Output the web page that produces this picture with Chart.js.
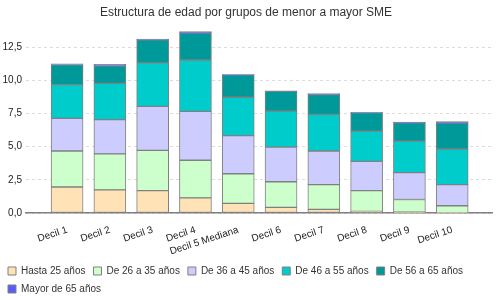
<!DOCTYPE html>
<html>
<head>
<meta charset="utf-8">
<script src="https://cdn.jsdelivr.net/npm/chart.js@4/dist/chart.umd.min.js"></script>
<style>
  body { margin: 0; background: #fff; }
  #wrap { width: 500px; height: 300px; }
</style>
</head>
<body>
<div id="wrap"><canvas id="edadChart"></canvas></div>
<script>
// Categorias (deciles) y series
var deciles = ["Decil 1", "Decil 2", "Decil 3", "Decil 4", "Decil 5 Mediana", "Decil 6", "Decil 7", "Decil 8", "Decil 9", "Decil 10"];
var hasta25 = [1.96, 1.74, 1.69, 1.14, 0.72, 0.42, 0.27, 0.12, 0.06, 0.02];
var de26a35 = [2.72, 2.72, 3.03, 2.84, 2.24, 1.94, 1.87, 1.57, 0.96, 0.53];
var de36a45 = [2.46, 2.58, 3.32, 3.68, 2.88, 2.61, 2.54, 2.21, 2.02, 1.59];
var de46a55 = [2.54, 2.74, 3.28, 3.88, 2.89, 2.72, 2.76, 2.27, 2.38, 2.69];
var de56a65 = [1.52, 1.32, 1.74, 2.04, 1.69, 1.49, 1.49, 1.41, 1.39, 1.96];
var mayor65 = [0.05, 0.12, 0.06, 0.10, 0.03, 0.04, 0.08, 0.02, 0.05, 0.10];
var yTicks = [0, 2.5, 5, 7.5, 10, 12.5];

var fontFam = "'Liberation Sans', Arial, sans-serif";

// helper to turn a series into {x, y} points on the index axis
function toPoints(arr) {
  return arr.map(function (v, i) { return { x: i, y: v }; });
}

function makeSet(label, arr, color) {
  return {
    label: label,
    data: toPoints(arr),
    backgroundColor: color,
    borderColor: "#808080",
    borderWidth: 1,
    borderSkipped: false,
    barThickness: 32
  };
}

// nudge the legend a few pixels lower, closer to the bottom edge
var legendShift = {
  id: 'legendShift',
  afterLayout: function (chart) {
    if (chart.legend) {
      chart.legend.top += 4;
      chart.legend.bottom += 4;
    }
  }
};

var ctx = document.getElementById('edadChart');
var edadChart = new Chart(ctx, {
  type: 'bar',
  data: {
    datasets: [
      makeSet("Hasta 25 años", hasta25, "#FFE2B6"),
      makeSet("De 26 a 35 años", de26a35, "#CCFFCC"),
      makeSet("De 36 a 45 años", de36a45, "#CCCCFF"),
      makeSet("De 46 a 55 años", de46a55, "#00CCCC"),
      makeSet("De 56 a 65 años", de56a65, "#009999"),
      makeSet("Mayor de 65 años", mayor65, "#5A5AFF")
    ]
  },
  plugins: [legendShift],
  options: {
    responsive: true,
    maintainAspectRatio: false,
    animation: false,
    layout: { padding: { left: 0, right: 8, top: 3, bottom: 0 } },
    plugins: {
      title: {
        display: true,
        text: "Estructura de edad por grupos de menor a mayor SME",
        color: "#333",
        font: { family: fontFam, size: 12, weight: 'normal' },
        padding: { top: 2, bottom: 8 }
      },
      legend: {
        position: 'bottom',
        align: 'start',
        labels: {
          boxWidth: 8,
          boxHeight: 8,
          padding: 8,
          color: "#333",
          font: { family: fontFam, size: 10 }
        }
      },
      tooltip: { enabled: false }
    },
    scales: {
      x: {
        type: 'linear',
        stacked: true,
        offset: false,
        min: -0.96,
        max: 9.93,
        grid: { display: false, offset: false },
        border: { display: true, color: "#808080", width: 1.5 },
        afterBuildTicks: function (scale) {
          scale.ticks = deciles.map(function (d, i) { return { value: i }; });
        },
        afterFit: function (scale) { scale.height = 41; },
        ticks: {
          autoSkip: false,
          minRotation: 18,
          maxRotation: 18,
          color: "#222",
          font: { family: fontFam, size: 10 },
          callback: function (value) { return deciles[value]; }
        }
      },
      y: {
        stacked: true,
        min: 0,
        max: 14,
        afterBuildTicks: function (scale) {
          scale.ticks = yTicks.map(function (v) { return { value: v }; });
        },
        afterFit: function (scale) { scale.width = 26; },
        grid: { color: "#dddddd", drawTicks: false },
        border: { display: false, dash: [3, 3] },
        ticks: {
          padding: 4,
          color: "#222",
          font: { family: fontFam, size: 10 },
          callback: function (value) { return value.toFixed(1).replace('.', ','); }
        }
      }
    }
  }
});
</script>
</body>
</html>
